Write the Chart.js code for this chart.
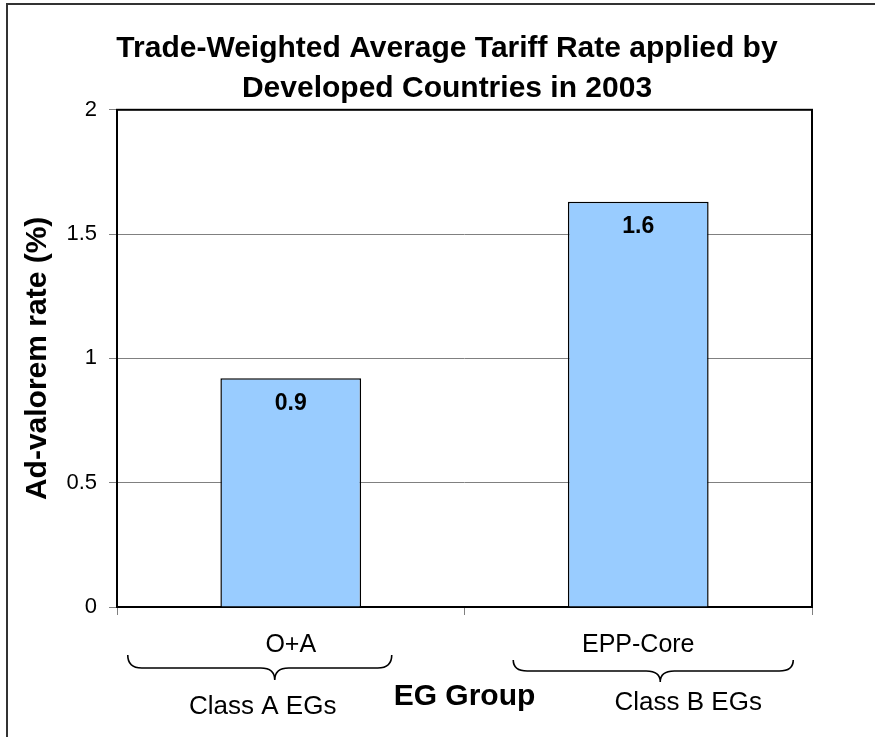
<!DOCTYPE html>
<html>
<head>
<meta charset="utf-8">
<script src="https://cdn.jsdelivr.net/npm/chart.js@4.4.1/dist/chart.umd.min.js"></script>
<style>
  body { margin: 0; background: #fff; }
  #wrap { width: 875px; height: 737px; position: relative; }
</style>
</head>
<body>
<div id="wrap"><canvas id="myChart"></canvas></div>
<script>
// Datos del gráfico
const categories = ['O+A', 'EPP-Core'];
const tariffRates = [0.92, 1.63];
const groupNames = ['Class A EGs', 'Class B EGs'];
const yTicks = [0, 0.5, 1, 1.5, 2];

const FONT = '"Liberation Sans", Arial, sans-serif';

// Marco exterior (solo arriba e izquierda, como el recorte original) y marco del área
const outerFrame = {
    id: 'outerFrame',
    beforeDraw(chart) {
        const ctx = chart.ctx;
        ctx.save();
        ctx.strokeStyle = '#333';
        ctx.lineWidth = 2;
        ctx.beginPath();
        ctx.moveTo(7, chart.height);
        ctx.lineTo(7, 4);
        ctx.lineTo(chart.width, 4);
        ctx.stroke();
        ctx.restore();
    },
    beforeDatasetsDraw(chart) {
        const {ctx, chartArea: a} = chart;
        ctx.save();
        ctx.strokeStyle = '#000';
        ctx.lineWidth = 2;
        ctx.strokeRect(a.left, a.top, a.right - a.left, a.bottom - a.top);
        ctx.restore();
    }
};

// Etiquetas de valor dentro de las barras
const valueLabels = {
    id: 'valueLabels',
    afterDatasetsDraw(chart) {
        const ctx = chart.ctx;
        const meta = chart.getDatasetMeta(0);
        ctx.save();
        ctx.font = 'bold 23px ' + FONT;
        ctx.fillStyle = '#000';
        ctx.textAlign = 'center';
        ctx.textBaseline = 'middle';
        meta.data.forEach((bar, i) => {
            ctx.fillText(tariffRates[i].toFixed(1), bar.x, bar.y + 25);
        });
        ctx.restore();
    }
};

// Llaves bajo las categorías con el nombre del grupo
const groupBraces = {
    id: 'groupBraces',
    afterDraw(chart) {
        const ctx = chart.ctx;
        const x = chart.scales.x;
        const base = chart.chartArea.bottom;
        // desplazamientos relativos al centro de cada categoría
        const shapes = [
            {from: -163, to: 101, tip: -16, top: 48, mid: 61, end: 73, label: -28, labelY: 100},
            {from: -125, to: 155, tip: 22, top: 53, mid: 64, end: 75, label: 50, labelY: 96}
        ];
        ctx.save();
        ctx.strokeStyle = '#000';
        ctx.lineWidth = 1.6;
        ctx.fillStyle = '#000';
        ctx.font = '26px ' + FONT;
        ctx.textAlign = 'center';
        ctx.textBaseline = 'middle';
        groupNames.forEach((name, i) => {
            const c = x.getPixelForValue(i);
            const s = shapes[i];
            const x1 = c + s.from, x2 = c + s.to, xt = c + s.tip;
            const yT = base + s.top, yM = base + s.mid, yE = base + s.end;
            const r = 14;
            ctx.beginPath();
            ctx.moveTo(x1, yT);
            ctx.quadraticCurveTo(x1, yM, x1 + r, yM);
            ctx.lineTo(xt - r, yM);
            ctx.quadraticCurveTo(xt, yM, xt, yE);
            ctx.quadraticCurveTo(xt, yM, xt + r, yM);
            ctx.lineTo(x2 - r, yM);
            ctx.quadraticCurveTo(x2, yM, x2, yT);
            ctx.stroke();
            ctx.fillText(name, c + s.label, base + s.labelY);
        });
        ctx.restore();
    }
};

const config = {
    type: 'bar',
    data: {
        labels: categories,
        datasets: [{
            data: tariffRates,
            backgroundColor: '#99ccff',
            borderColor: '#000',
            borderWidth: 1.5,
            barPercentage: 0.405,
            categoryPercentage: 1
        }]
    },
    options: {
        responsive: true,
        maintainAspectRatio: false,
        animation: false,
        layout: { padding: { left: 19, top: 0, right: 0, bottom: 0 } },
        plugins: {
            legend: { display: false },
            tooltip: { enabled: false },
            title: {
                display: true,
                text: ['Trade-Weighted Average Tariff Rate applied by', 'Developed Countries in 2003'],
                color: '#000',
                font: { family: FONT, size: 30, weight: 'bold', lineHeight: 1.33 },
                padding: { top: 29, bottom: 1 }
            }
        },
        scales: {
            x: {
                grid: { drawOnChartArea: false, drawTicks: true, tickLength: 8, color: '#808080' },
                border: { display: false },
                ticks: { color: '#000', font: { family: FONT, size: 25 }, padding: 15 },
                title: {
                    display: true,
                    text: 'EG Group',
                    color: '#000',
                    font: { family: FONT, size: 30, weight: 'bold' },
                    padding: { top: 0, bottom: 22 }
                },
                afterFit(scale) { scale.height = 130; }
            },
            y: {
                min: 0,
                max: 2,
                afterBuildTicks(scale) { scale.ticks = yTicks.map(v => ({ value: v })); },
                grid: { color: '#808080', tickLength: 8 },
                border: { display: false },
                ticks: {
                    color: '#000',
                    font: { family: FONT, size: 22 },
                    padding: 12,
                    callback: (v) => String(v)
                },
                title: {
                    display: true,
                    text: 'Ad-valorem rate (%)',
                    color: '#000',
                    font: { family: FONT, size: 30, weight: 'bold' },
                    padding: { top: 1, bottom: 0 }
                },
                afterFit(scale) { scale.width = 98; }
            },
            // eje vacío a la derecha para reservar el margen derecho
            y2: {
                position: 'right',
                grid: { display: false },
                border: { display: false },
                ticks: { display: false },
                afterFit(scale) { scale.width = 63; }
            }
        }
    },
    plugins: [outerFrame, valueLabels, groupBraces]
};

new Chart(document.getElementById('myChart'), config);
</script>
</body>
</html>
